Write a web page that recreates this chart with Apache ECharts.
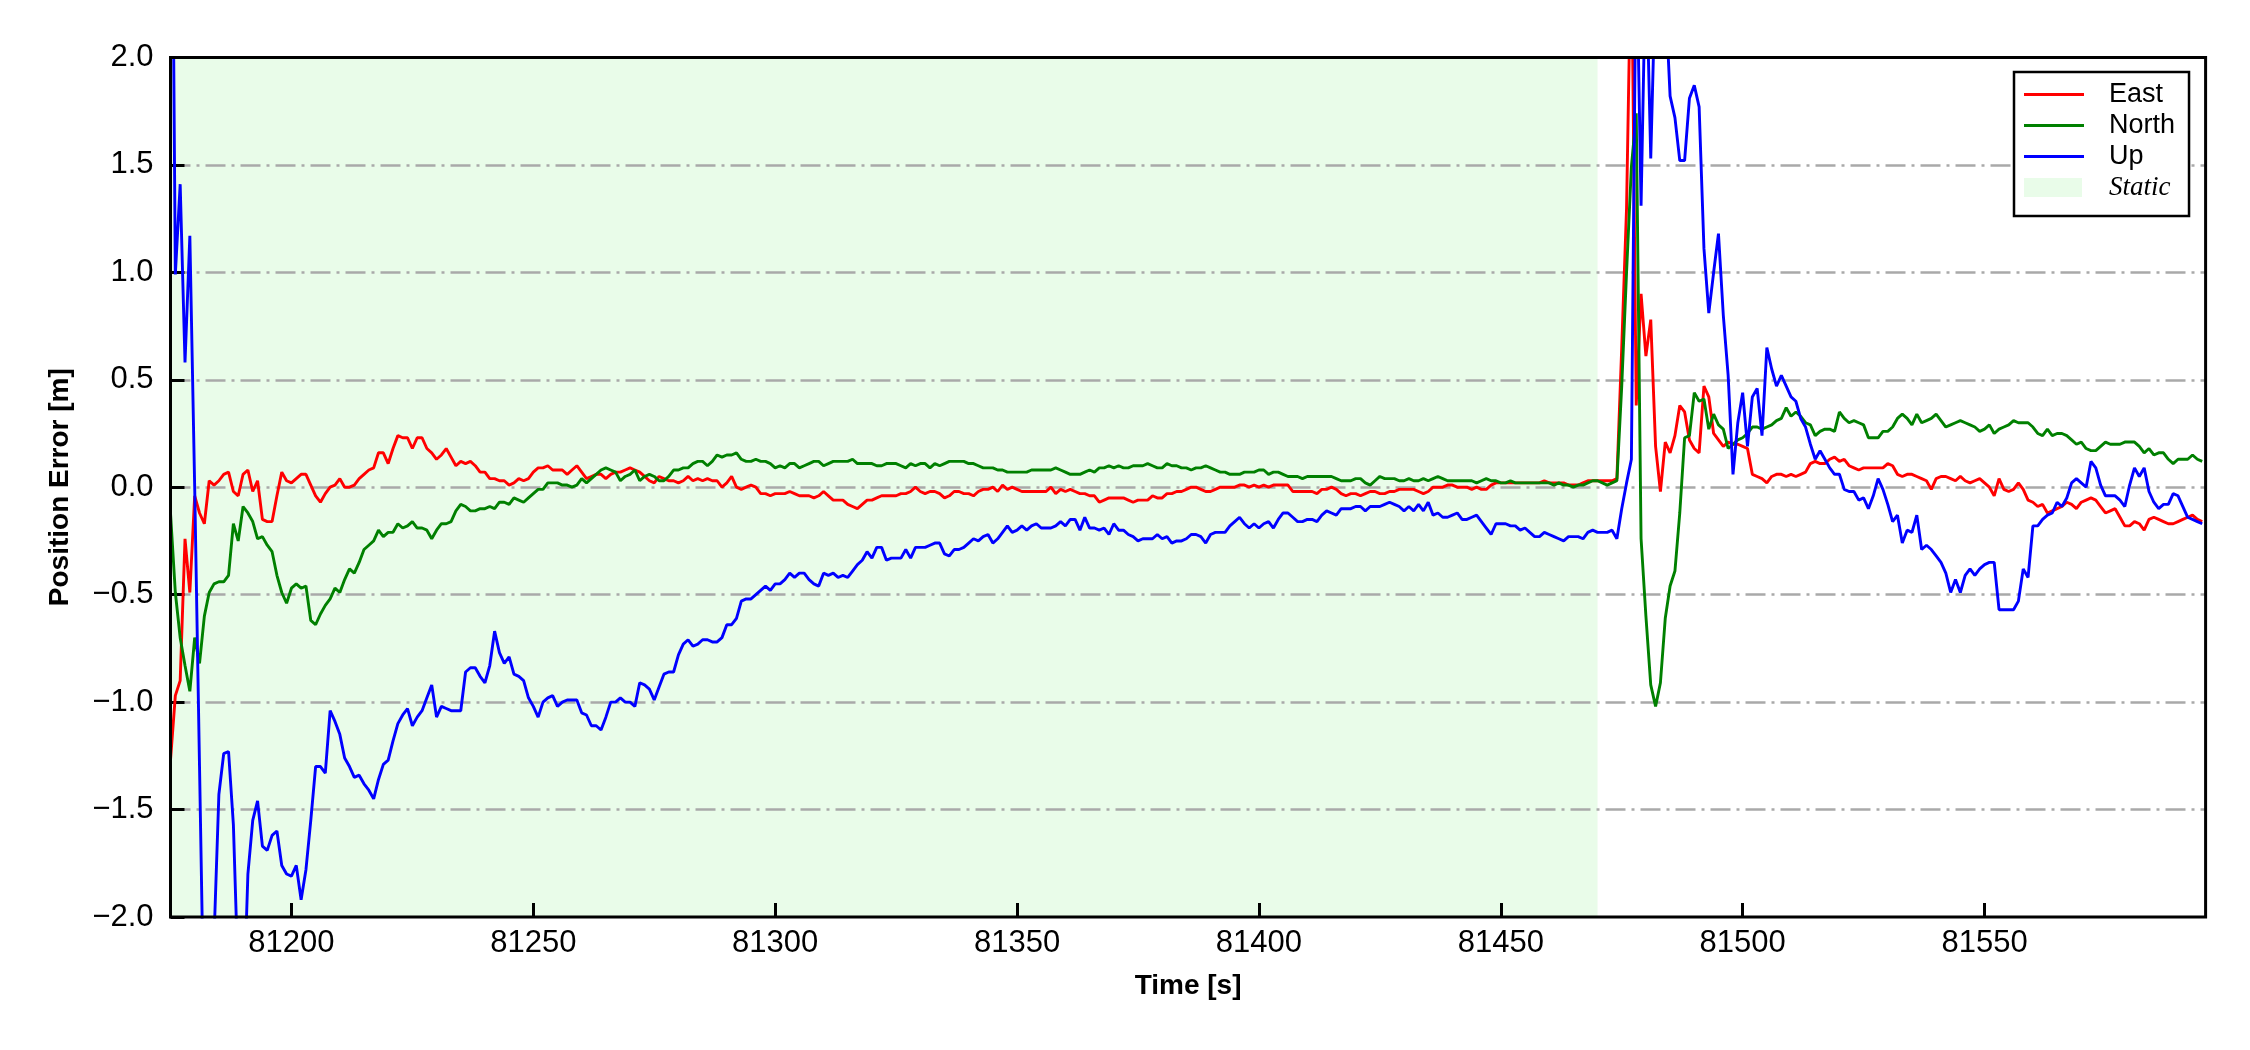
<!DOCTYPE html>
<html>
<head>
<meta charset="utf-8">
<script src="https://cdn.jsdelivr.net/npm/echarts@6/dist/echarts.min.js"></script>
<style>
html,body{margin:0;padding:0;background:#ffffff;}
#chart{width:2250px;height:1050px;}
</style>
</head>
<body>
<div id="chart"></div>
<script>
// ---- sample times: one sample per second starting at T0 ----
const T0 = 81175;
const DT = 1;

// ---- axis ticks ----
const xTicks = [81200, 81250, 81300, 81350, 81400, 81450, 81500, 81550];
const yMin = -2, yMax = 2, yStep = 0.5;

// ---- static period (shaded) ----
const staticStart = 81175;
const staticEnd = 81470;

// ---- East position error [m] ----
const east = [
-1.27,-0.97,-0.90,-0.24,-0.49,-0.04,-0.12,-0.17,0.03,0.01,
0.03,0.06,0.07,-0.02,-0.04,0.06,0.08,-0.02,0.03,-0.15,
-0.16,-0.16,-0.04,0.07,0.03,0.02,0.04,0.06,0.06,0.01,
-0.04,-0.07,-0.03,0.00,0.01,0.04,0.00,0.00,0.01,0.04,
0.06,0.08,0.09,0.16,0.16,0.11,0.18,0.24,0.23,0.23,
0.18,0.23,0.23,0.18,0.16,0.13,0.15,0.18,0.14,0.10,
0.12,0.11,0.12,0.10,0.07,0.07,0.04,0.04,0.03,0.03,
0.01,0.02,0.04,0.03,0.04,0.07,0.09,0.09,0.10,0.08,
0.08,0.08,0.06,0.08,0.10,0.07,0.04,0.05,0.06,0.06,
0.04,0.06,0.07,0.07,0.08,0.09,0.08,0.07,0.05,0.03,
0.02,0.05,0.04,0.03,0.03,0.02,0.03,0.05,0.03,0.04,
0.03,0.04,0.03,0.03,0.00,0.02,0.05,0.00,-0.01,0.00,
0.01,0.00,-0.03,-0.03,-0.04,-0.03,-0.03,-0.03,-0.02,-0.03,
-0.04,-0.04,-0.04,-0.05,-0.04,-0.02,-0.04,-0.06,-0.06,-0.06,
-0.08,-0.09,-0.10,-0.08,-0.06,-0.06,-0.05,-0.04,-0.04,-0.04,
-0.04,-0.03,-0.03,-0.02,0.00,-0.02,-0.03,-0.02,-0.02,-0.03,
-0.05,-0.04,-0.02,-0.02,-0.03,-0.03,-0.04,-0.02,-0.01,-0.01,
0.00,-0.02,0.01,-0.01,0.00,-0.01,-0.02,-0.02,-0.02,-0.02,
-0.02,-0.02,0.00,-0.03,-0.01,-0.02,-0.01,-0.02,-0.03,-0.03,
-0.04,-0.04,-0.07,-0.06,-0.05,-0.05,-0.05,-0.05,-0.06,-0.07,
-0.06,-0.06,-0.06,-0.04,-0.05,-0.05,-0.03,-0.03,-0.02,-0.02,
-0.01,0.00,0.00,-0.01,-0.02,-0.02,-0.01,0.00,0.00,0.00,
0.00,0.01,0.01,0.00,0.01,0.00,0.01,0.00,0.01,0.01,
0.01,0.01,-0.02,-0.02,-0.02,-0.02,-0.02,-0.03,-0.01,-0.01,
0.00,-0.01,-0.03,-0.04,-0.03,-0.03,-0.04,-0.03,-0.02,-0.02,
-0.03,-0.03,-0.02,-0.02,-0.01,-0.01,-0.01,-0.01,-0.02,-0.03,
-0.02,0.00,0.00,0.00,0.01,0.01,0.00,0.00,0.00,-0.01,
0.00,-0.01,-0.01,0.01,0.02,0.02,0.02,0.02,0.02,0.02,
0.02,0.02,0.02,0.02,0.03,0.02,0.02,0.02,0.02,0.01,
0.01,0.01,0.02,0.03,0.03,0.03,0.03,0.03,0.03,0.04,
0.65,1.30,2.60,0.38,0.90,0.61,0.78,0.19,-0.02,0.21,
0.16,0.24,0.38,0.35,0.22,0.18,0.16,0.47,0.42,0.25,
0.22,0.19,0.21,0.20,0.20,0.19,0.18,0.06,0.05,0.04,
0.02,0.05,0.06,0.06,0.05,0.06,0.05,0.06,0.07,0.11,
0.12,0.11,0.11,0.13,0.14,0.12,0.13,0.10,0.09,0.08,
0.09,0.09,0.09,0.09,0.09,0.11,0.10,0.06,0.05,0.06,
0.06,0.05,0.04,0.03,-0.01,0.04,0.05,0.05,0.04,0.03,
0.05,0.03,0.02,0.03,0.04,0.02,0.00,-0.04,0.04,-0.01,
-0.02,-0.01,0.02,-0.01,-0.06,-0.07,-0.09,-0.08,-0.12,-0.11,
-0.10,-0.09,-0.07,-0.08,-0.10,-0.07,-0.06,-0.05,-0.06,-0.09,
-0.12,-0.11,-0.10,-0.14,-0.18,-0.18,-0.16,-0.17,-0.20,-0.15,
-0.14,-0.15,-0.16,-0.17,-0.17,-0.16,-0.15,-0.14,-0.13,-0.15,
-0.16
];

// ---- North position error [m] ----
const north = [
-0.12,-0.49,-0.70,-0.83,-0.95,-0.70,-0.82,-0.60,-0.49,-0.45,
-0.44,-0.44,-0.41,-0.17,-0.25,-0.09,-0.12,-0.16,-0.24,-0.23,
-0.27,-0.30,-0.41,-0.49,-0.54,-0.47,-0.45,-0.47,-0.46,-0.62,
-0.64,-0.59,-0.55,-0.52,-0.47,-0.49,-0.43,-0.38,-0.40,-0.35,
-0.29,-0.27,-0.25,-0.20,-0.23,-0.21,-0.21,-0.17,-0.19,-0.18,
-0.16,-0.19,-0.19,-0.20,-0.24,-0.20,-0.17,-0.17,-0.16,-0.11,
-0.08,-0.09,-0.11,-0.11,-0.10,-0.10,-0.09,-0.10,-0.07,-0.07,
-0.08,-0.05,-0.06,-0.07,-0.05,-0.03,-0.01,-0.01,0.02,0.02,
0.02,0.01,0.01,0.00,0.01,0.04,0.02,0.04,0.06,0.08,
0.09,0.08,0.07,0.03,0.05,0.06,0.08,0.03,0.05,0.06,
0.05,0.03,0.03,0.05,0.08,0.08,0.09,0.09,0.11,0.12,
0.12,0.10,0.12,0.15,0.14,0.15,0.15,0.16,0.13,0.12,
0.12,0.13,0.12,0.12,0.11,0.09,0.10,0.09,0.11,0.11,
0.09,0.10,0.11,0.12,0.12,0.10,0.11,0.12,0.12,0.12,
0.12,0.13,0.11,0.11,0.11,0.11,0.10,0.10,0.11,0.11,
0.11,0.10,0.09,0.11,0.10,0.11,0.11,0.09,0.11,0.10,
0.11,0.12,0.12,0.12,0.12,0.11,0.11,0.10,0.09,0.09,
0.09,0.08,0.08,0.07,0.07,0.07,0.07,0.07,0.08,0.08,
0.08,0.08,0.08,0.09,0.08,0.07,0.06,0.06,0.06,0.07,
0.08,0.07,0.09,0.09,0.10,0.09,0.10,0.09,0.09,0.10,
0.10,0.10,0.11,0.10,0.09,0.09,0.11,0.10,0.10,0.09,
0.09,0.08,0.09,0.09,0.10,0.09,0.08,0.07,0.07,0.06,
0.06,0.06,0.07,0.07,0.07,0.08,0.08,0.06,0.07,0.07,
0.06,0.05,0.05,0.05,0.04,0.05,0.05,0.05,0.05,0.05,
0.05,0.04,0.03,0.03,0.03,0.04,0.04,0.02,0.01,0.03,
0.05,0.04,0.04,0.04,0.03,0.03,0.04,0.03,0.03,0.04,
0.03,0.04,0.05,0.04,0.03,0.03,0.03,0.03,0.03,0.03,
0.02,0.03,0.04,0.03,0.03,0.02,0.02,0.03,0.02,0.02,
0.02,0.02,0.02,0.02,0.02,0.02,0.01,0.02,0.01,0.01,
0.00,0.01,0.01,0.02,0.03,0.03,0.02,0.01,0.02,0.03,
0.47,1.00,1.49,1.74,-0.24,-0.60,-0.92,-1.02,-0.91,-0.61,
-0.46,-0.39,-0.12,0.23,0.24,0.44,0.40,0.41,0.27,0.34,
0.29,0.27,0.18,0.20,0.22,0.23,0.25,0.28,0.28,0.27,
0.28,0.29,0.31,0.32,0.37,0.33,0.35,0.33,0.30,0.29,
0.24,0.26,0.27,0.27,0.26,0.35,0.32,0.30,0.31,0.30,
0.29,0.23,0.23,0.23,0.26,0.26,0.28,0.32,0.34,0.32,
0.29,0.34,0.30,0.31,0.32,0.34,0.31,0.28,0.29,0.30,
0.31,0.30,0.29,0.28,0.26,0.27,0.29,0.25,0.27,0.28,
0.29,0.31,0.30,0.30,0.30,0.28,0.25,0.24,0.27,0.24,
0.25,0.25,0.24,0.22,0.20,0.21,0.18,0.17,0.17,0.19,
0.21,0.20,0.20,0.20,0.21,0.21,0.21,0.19,0.16,0.18,
0.15,0.16,0.16,0.13,0.11,0.13,0.13,0.13,0.15,0.13,
0.12
];

// ---- Up position error [m] ----
const up = [
4.00,0.99,1.41,0.58,1.17,0.00,-1.30,-2.60,-2.50,-2.10,
-1.43,-1.24,-1.23,-1.57,-2.30,-2.50,-1.80,-1.55,-1.46,-1.67,
-1.69,-1.62,-1.60,-1.76,-1.80,-1.81,-1.76,-1.92,-1.78,-1.55,
-1.30,-1.30,-1.33,-1.04,-1.09,-1.15,-1.26,-1.30,-1.35,-1.34,
-1.38,-1.41,-1.45,-1.36,-1.29,-1.27,-1.18,-1.10,-1.06,-1.03,
-1.11,-1.07,-1.04,-0.98,-0.92,-1.07,-1.02,-1.03,-1.04,-1.04,
-1.04,-0.86,-0.84,-0.84,-0.88,-0.91,-0.83,-0.67,-0.77,-0.82,
-0.79,-0.87,-0.88,-0.90,-0.98,-1.02,-1.07,-1.00,-0.98,-0.97,
-1.02,-1.00,-0.99,-0.99,-0.99,-1.05,-1.06,-1.11,-1.11,-1.13,
-1.07,-1.00,-1.00,-0.98,-1.00,-1.00,-1.02,-0.91,-0.92,-0.94,
-0.99,-0.93,-0.87,-0.86,-0.86,-0.78,-0.73,-0.71,-0.74,-0.73,
-0.71,-0.71,-0.72,-0.72,-0.70,-0.64,-0.64,-0.61,-0.53,-0.52,
-0.52,-0.50,-0.48,-0.46,-0.48,-0.45,-0.45,-0.43,-0.40,-0.42,
-0.40,-0.40,-0.43,-0.45,-0.46,-0.40,-0.41,-0.40,-0.42,-0.41,
-0.42,-0.39,-0.36,-0.34,-0.30,-0.33,-0.28,-0.28,-0.34,-0.33,
-0.33,-0.33,-0.29,-0.33,-0.28,-0.28,-0.28,-0.27,-0.26,-0.26,
-0.31,-0.32,-0.29,-0.29,-0.28,-0.26,-0.24,-0.25,-0.23,-0.22,
-0.26,-0.24,-0.21,-0.18,-0.21,-0.20,-0.18,-0.20,-0.18,-0.17,
-0.19,-0.19,-0.19,-0.18,-0.16,-0.18,-0.15,-0.15,-0.20,-0.14,
-0.19,-0.19,-0.20,-0.19,-0.22,-0.17,-0.20,-0.20,-0.22,-0.23,
-0.25,-0.24,-0.24,-0.24,-0.22,-0.24,-0.23,-0.26,-0.25,-0.25,
-0.24,-0.22,-0.22,-0.23,-0.26,-0.22,-0.21,-0.21,-0.21,-0.18,
-0.16,-0.14,-0.17,-0.19,-0.17,-0.19,-0.17,-0.16,-0.19,-0.15,
-0.12,-0.12,-0.14,-0.16,-0.16,-0.15,-0.15,-0.16,-0.13,-0.11,
-0.12,-0.13,-0.10,-0.10,-0.10,-0.09,-0.09,-0.11,-0.09,-0.09,
-0.09,-0.08,-0.07,-0.08,-0.09,-0.11,-0.09,-0.11,-0.08,-0.11,
-0.07,-0.13,-0.12,-0.14,-0.14,-0.13,-0.12,-0.15,-0.15,-0.14,
-0.13,-0.16,-0.19,-0.22,-0.17,-0.17,-0.17,-0.18,-0.18,-0.20,
-0.19,-0.21,-0.23,-0.23,-0.21,-0.22,-0.23,-0.24,-0.25,-0.23,
-0.23,-0.23,-0.24,-0.21,-0.20,-0.21,-0.21,-0.21,-0.20,-0.24,
-0.10,0.02,0.13,2.60,1.31,2.50,1.53,2.40,2.50,2.30,
1.82,1.72,1.52,1.52,1.81,1.87,1.77,1.11,0.81,1.00,
1.18,0.80,0.52,0.06,0.30,0.44,0.19,0.42,0.46,0.24,
0.65,0.55,0.47,0.52,0.47,0.42,0.40,0.32,0.28,0.20,
0.13,0.17,0.13,0.09,0.06,0.06,-0.01,-0.02,-0.02,-0.06,
-0.05,-0.10,-0.04,0.04,-0.01,-0.08,-0.16,-0.13,-0.26,-0.20,
-0.21,-0.13,-0.29,-0.27,-0.29,-0.32,-0.35,-0.40,-0.49,-0.43,
-0.49,-0.41,-0.38,-0.41,-0.38,-0.36,-0.35,-0.35,-0.57,-0.57,
-0.57,-0.57,-0.53,-0.38,-0.42,-0.18,-0.18,-0.15,-0.13,-0.12,
-0.07,-0.09,-0.05,0.02,0.04,0.02,0.00,0.12,0.09,0.01,
-0.04,-0.04,-0.04,-0.06,-0.09,0.01,0.09,0.05,0.09,-0.02,
-0.07,-0.10,-0.08,-0.08,-0.03,-0.04,-0.09,-0.14,-0.15,-0.16,
-0.17
];

const FONT = '"Liberation Sans", Arial, Helvetica, sans-serif';
const SERIF = '"Liberation Serif", "Times New Roman", serif';

function pairs(vals) {
  return vals.map((v, i) => [T0 + i * DT, v]);
}

const chart = echarts.init(document.getElementById('chart'), null, {width: 2250, height: 1050});

const lineSeries = (name, color, vals) => ({
  name: name,
  type: 'line',
  data: pairs(vals),
  symbol: 'none',
  showSymbol: false,
  clip: true,
  color: color,
  lineStyle: {color: color, width: 2.9},
  itemStyle: {color: color},
  z: 3,
  animation: false
});

const legendText = {fontFamily: FONT, fontSize: 27, color: '#000000', lineHeight: 27, padding: [0, 0, 0, 20]};

chart.setOption({
  backgroundColor: '#ffffff',
  animation: false,
  grid: {
    left: 170.5, right: 44.4, top: 57.4, bottom: 133,
    show: true, borderColor: '#000000', borderWidth: 3,
    backgroundColor: 'transparent',
    containLabel: false,
    outerBoundsMode: 'none',
    z: 4
  },
  legend: [
    {
      // lines part of the legend; its box also encloses the "Static" row
      orient: 'vertical',
      left: 2014, top: 72,
      padding: [9, 14, 46, 10],
      itemWidth: 60, itemHeight: 3, itemGap: 4,
      icon: 'rect',
      borderColor: '#000000', borderWidth: 2.5, borderRadius: 0,
      backgroundColor: '#ffffff',
      selectedMode: false,
      textStyle: legendText,
      data: ['East', 'North', 'Up'],
      z: 10
    },
    {
      orient: 'vertical',
      left: 2014, top: 174,
      padding: [0, 14, 0, 10],
      itemWidth: 58, itemHeight: 19, itemGap: 4,
      icon: 'rect',
      borderWidth: 0,
      backgroundColor: 'transparent',
      selectedMode: false,
      textStyle: Object.assign({}, legendText, {fontFamily: SERIF, fontStyle: 'italic', padding: [0, 0, 0, 22]}),
      data: ['Static'],
      z: 11
    }
  ],
  xAxis: {
    type: 'value',
    min: 81175, max: 81595.7,
    axisLine: {show: false, onZero: false},
    splitLine: {show: false},
    axisTick: {show: true, inside: true, length: 14, lineStyle: {color: '#000000', width: 3}, customValues: xTicks},
    axisLabel: {show: true, customValues: xTicks, fontFamily: FONT, fontSize: 31, color: '#000000', margin: 11,
      formatter: v => String(Math.round(v))},
    name: 'Time [s]',
    nameLocation: 'middle',
    nameGap: 55,
    nameTextStyle: {fontFamily: FONT, fontSize: 28, fontWeight: 'bold', color: '#000000'}
  },
  yAxis: {
    type: 'value',
    min: yMin, max: yMax, interval: yStep,
    axisLine: {show: false, onZero: false},
    axisTick: {show: true, inside: true, length: 14, lineStyle: {color: '#000000', width: 3}},
    axisLabel: {fontFamily: FONT, fontSize: 31, color: '#000000', margin: 17,
      formatter: v => (v < 0 ? '\u2212' : '') + Math.abs(v).toFixed(1)},
    splitLine: {show: true, showMinLine: false, showMaxLine: false,
      lineStyle: {color: '#a9a9a9', width: 2.5, type: [20, 6, 3, 6]}},
    name: 'Position Error [m]',
    nameLocation: 'middle',
    nameGap: 96,
    nameTextStyle: {fontFamily: FONT, fontSize: 28, fontWeight: 'bold', color: '#000000'}
  },
  series: [
    {
      name: 'Static',
      type: 'custom',
      z: -1,
      silent: true,
      animation: false,
      itemStyle: {color: '#e9fce9'},
      color: '#e9fce9',
      encode: {x: [0, 1]},
      data: [[staticStart, staticEnd]],
      renderItem: function (params, api) {
        const p0 = api.coord([api.value(0), yMax]);
        const p1 = api.coord([api.value(1), yMin]);
        return {
          type: 'rect',
          shape: {x: p0[0], y: p0[1], width: p1[0] - p0[0], height: p1[1] - p0[1]},
          style: {fill: '#e9fce9'}
        };
      }
    },
    lineSeries('East', '#ff0000', east),
    lineSeries('North', '#008000', north),
    lineSeries('Up', '#0000ff', up)
  ]
});
</script>
</body>
</html>
